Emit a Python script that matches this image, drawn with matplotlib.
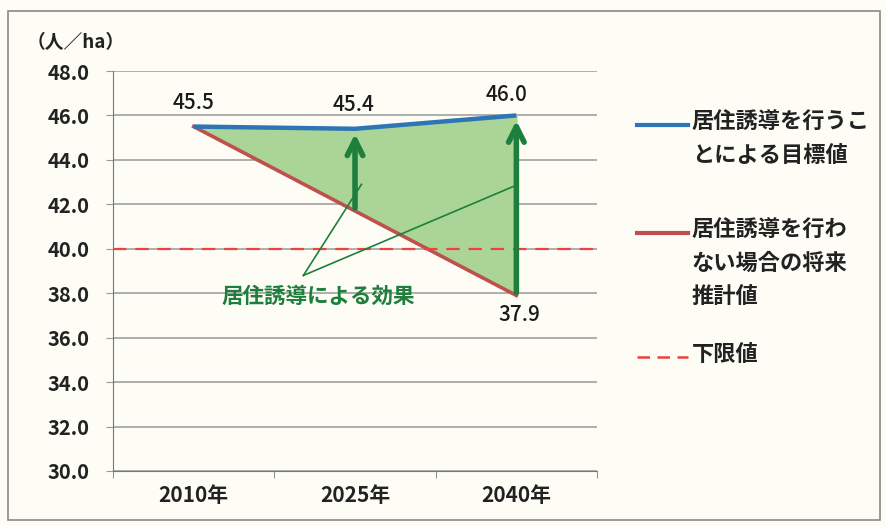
import matplotlib
matplotlib.use("Agg")
import matplotlib.pyplot as plt
from matplotlib.lines import Line2D
from matplotlib.patches import Rectangle

plt.rcParams['font.family'] = ['Noto Sans CJK JP', 'DejaVu Sans']

# data
years = ["2010年", "2025年", "2040年"]
target = [45.5, 45.4, 46.0]          # 居住誘導を行うことによる目標値
projection = [45.5, 41.7, 37.9]      # 居住誘導を行わない場合の将来推計値
lower_limit = 40.0                   # 下限値
yticks = [30, 32, 34, 36, 38, 40, 42, 44, 46, 48]

label_target = "居住誘導を行うこ\nとによる目標値"
label_proj = "居住誘導を行わ\nない場合の将来\n推計値"
label_lower = "下限値"

blue = '#2e75b6'
red = '#c0504d'
dash_red = '#f04040'
green = '#1e7f3c'
fill_green = '#aad596'
bg = '#fdfdf6'

fig = plt.figure(figsize=(8.87, 5.26), dpi=100)
fig.patch.set_facecolor(bg)
fig.add_artist(Rectangle((0.009, 0.012), 0.983, 0.968, transform=fig.transFigure,
                         fill=False, edgecolor='#888888', lw=1.2))

ax = fig.add_axes([0.1274, 0.1046, 0.5457, 0.7604])
ax.set_facecolor(bg)
x = list(range(len(years)))

# shaded effect area
ax.fill_between(x, projection, target, color=fill_green, zorder=2)
ax.plot(x, target, color=blue, lw=3.2, solid_capstyle='butt', zorder=4)
ax.plot(x, projection, color=red, lw=2.6, zorder=3)
ax.axhline(lower_limit, color=dash_red, lw=1.6, dashes=(6, 4), zorder=3)

# effect arrows
ax.annotate("", xy=(1, 45.3), xytext=(1, projection[1]),
            arrowprops=dict(arrowstyle='->', lw=4, color=green, mutation_scale=28), zorder=5)
ax.annotate("", xy=(2, 45.9), xytext=(2, projection[2]),
            arrowprops=dict(arrowstyle='->', lw=4, color=green, mutation_scale=28), zorder=5)

# effect label with leader lines
ax.plot([0.68, 1.04], [38.8, 42.9], color=green, lw=1.2, zorder=5)
ax.plot([0.68, 1.98], [38.8, 42.8], color=green, lw=1.2, zorder=5)
ax.text(0.77, 37.85, "居住誘導による効果", color=green, fontsize=15.5, fontweight='bold',
        ha='center', va='center', zorder=6)

# value labels
vkw = dict(fontsize=15, fontweight='medium', ha='center', va='center', color='#1a1a1a')
ax.text(0.0, 46.55, "45.5", **vkw)
ax.text(0.99, 46.45, "45.4", **vkw)
ax.text(1.94, 46.9, "46.0", **vkw)
ax.text(2.02, 37.0, "37.9", **vkw)

ax.set_xlim(-0.5, 2.5)
ax.set_ylim(30, 48)
ax.set_yticks(yticks)
ax.set_yticklabels([f"{v:.1f}" for v in yticks], fontsize=14.5, fontweight='bold', color='#222222')
ax.set_xticks(x)
ax.set_xticklabels(years, fontsize=15, fontweight='bold', color='#222222')
ax.set_xticks([-0.5, 0.5, 1.5, 2.5], minor=True)
ax.tick_params(axis='x', which='major', length=0, pad=10)
ax.tick_params(axis='x', which='minor', length=5, color='#777777', direction='out')
ax.tick_params(axis='y', length=5, color='#999999', pad=12)
ax.grid(axis='y', color='#999999', lw=1.1, zorder=1)
for s in ['top', 'right']:
    ax.spines[s].set_visible(False)
ax.spines['left'].set_color('#777777')
ax.spines['bottom'].set_color('#777777')

fig.text(0.030, 0.92, "（人／ha）", fontsize=13.5, fontweight='bold', color='#222222', va='center')

# legend drawn by hand
W, H = 887, 526
def legend_entry(y_px, color, text, ls='-', lw=3):
    line = Line2D([637 / W, 688 / W], [1 - y_px / H, 1 - y_px / H], transform=fig.transFigure,
                  color=color, lw=lw, linestyle=ls)
    if ls == '--':
        line.set_dashes((5, 3))
    fig.add_artist(line)
    fig.text(692 / W, 1 - (y_px - 14) / H, text, fontsize=16, fontweight='bold',
             color='#222222', va='top', linespacing=1.55)

legend_entry(125, blue, label_target)
legend_entry(233, red, label_proj)
legend_entry(357, dash_red, label_lower, ls='--', lw=1.8)

fig.savefig("out.png", dpi=100, facecolor=bg)
